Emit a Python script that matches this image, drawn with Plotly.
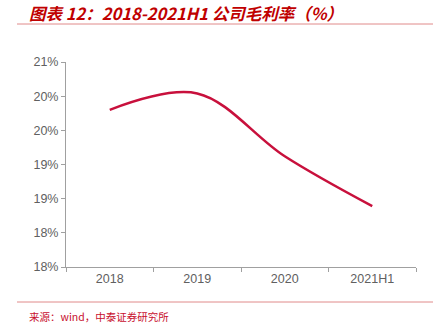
import plotly.graph_objects as go

categories = ["2018", "2019", "2020", "2021H1"]
gross_margin = [20.30, 20.54, 19.62, 18.89]
y_tickvals = [18, 18.5, 19, 19.5, 20, 20.5, 21]
y_ticktext = ["18%", "18%", "19%", "19%", "20%", "20%", "21%"]

fig = go.Figure()
fig.add_trace(go.Scatter(
    x=categories, y=gross_margin, mode="lines",
    line=dict(color="#C8103C", width=2.5, shape="spline", smoothing=1.0),
    hoverinfo="skip", showlegend=False,
))

axis_font = dict(family="Liberation Sans, Arial, sans-serif", size=12.5, color="#606060")
fig.update_layout(
    width=433, height=329,
    margin=dict(l=66, r=17, t=62, b=62),
    paper_bgcolor="white", plot_bgcolor="white",
    xaxis=dict(
        type="category", range=[-0.5, 3.5],
        showline=True, linecolor="#A0A0A0", linewidth=1,
        ticks="outside", tickson="boundaries", ticklen=4, tickcolor="#A0A0A0",
        showgrid=False, zeroline=False, tickfont=axis_font,
    ),
    yaxis=dict(
        range=[18, 21], tickmode="array", tickvals=y_tickvals, ticktext=y_ticktext,
        showline=True, linecolor="#A0A0A0", linewidth=1,
        ticks="outside", ticklen=4, tickcolor="#A0A0A0",
        showgrid=False, zeroline=False, tickfont=axis_font,
    ),
    shapes=[
        dict(type="line", xref="paper", yref="paper",
             x0=-49/350, x1=406/350, y0=(267-24)/205, y1=(267-24)/205,
             line=dict(color="#E08A8A", width=1)),
        dict(type="line", xref="paper", yref="paper",
             x0=-49/350, x1=406/350, y0=(267-302)/205, y1=(267-302)/205,
             line=dict(color="#E08A8A", width=1)),
    ],
    annotations=[
        dict(text="<b><i>图表 12：2018-2021H1 公司毛利率（%）</i></b>",
             xref="paper", yref="paper", x=-39/350, y=(267-13)/205,
             xanchor="left", yanchor="middle", showarrow=False,
             font=dict(family="Noto Sans CJK SC", size=16.5, color="#C00000")),
        dict(text="来源：wind，中泰证券研究所",
             xref="paper", yref="paper", x=-39/350, y=(267-316)/205,
             xanchor="left", yanchor="middle", showarrow=False,
             font=dict(family="Noto Sans CJK SC", size=10.5, color="#C8102E")),
    ],
)

fig.write_html("out.html")
